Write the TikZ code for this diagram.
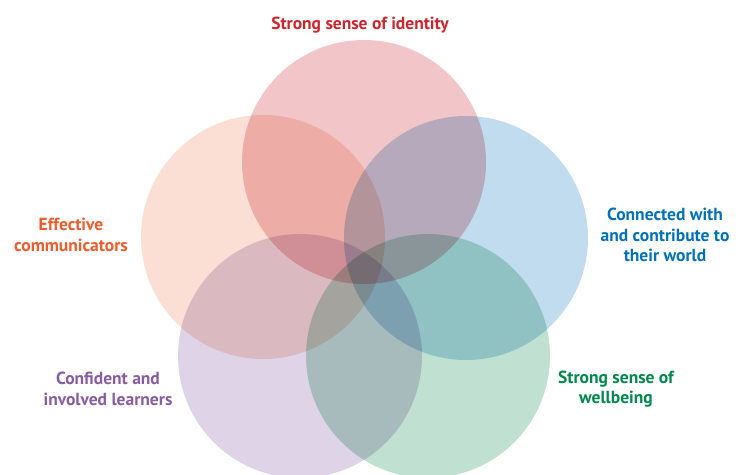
\documentclass[tikz,border=0pt]{standalone}
\usepackage{fontspec}
\setmainfont{PT Sans}

\definecolor{identityfill}{HTML}{F2C5C9}
\definecolor{commfill}{HTML}{FBDFD4}
\definecolor{worldfill}{HTML}{C0DCEE}
\definecolor{learnfill}{HTML}{DFD4E7}
\definecolor{wellfill}{HTML}{C0E1D1}
\definecolor{identitytext}{HTML}{D2232A}
\definecolor{commtext}{HTML}{F15A29}
\definecolor{worldtext}{HTML}{0072BC}
\definecolor{learntext}{HTML}{8A5BA5}
\definecolor{welltext}{HTML}{00894C}

\begin{document}
\begin{tikzpicture}[x=1pt, y=-1pt,
	ring/.style={circle, minimum size=244pt, inner sep=0pt, fill=#1},
	caption/.style={font=\bfseries\fontsize{17.5}{20.5}\selectfont, align=center, text=#1}]
	\useasboundingbox (0,0) rectangle (744,474);
	% the five circles, multiplied where they overlap
	\begin{scope}[blend group=multiply]
		\node[ring=identityfill] (identity) at (364,162) {};
		\node[ring=commfill] (comm) at (263,237) {};
		\node[ring=worldfill] (world) at (466,238) {};
		\node[ring=learnfill] (learn) at (300,356) {};
		\node[ring=wellfill] (well) at (428,356) {};
	\end{scope}
	% captions
	\node[caption=identitytext] (identitylabel) at (360,25) {Strong sense of identity};
	\node[caption=commtext] (commlabel) at (71,235) {Effective\\communicators};
	\node[caption=worldtext] (worldlabel) at (665,235) {Connected with\\and contribute to\\their world};
	\node[caption=learntext] (learnlabel) at (108,389) {Confident and\\involved learners};
	\node[caption=welltext] (welllabel) at (616,389) {Strong sense of\\wellbeing};
\end{tikzpicture}
\end{document}
